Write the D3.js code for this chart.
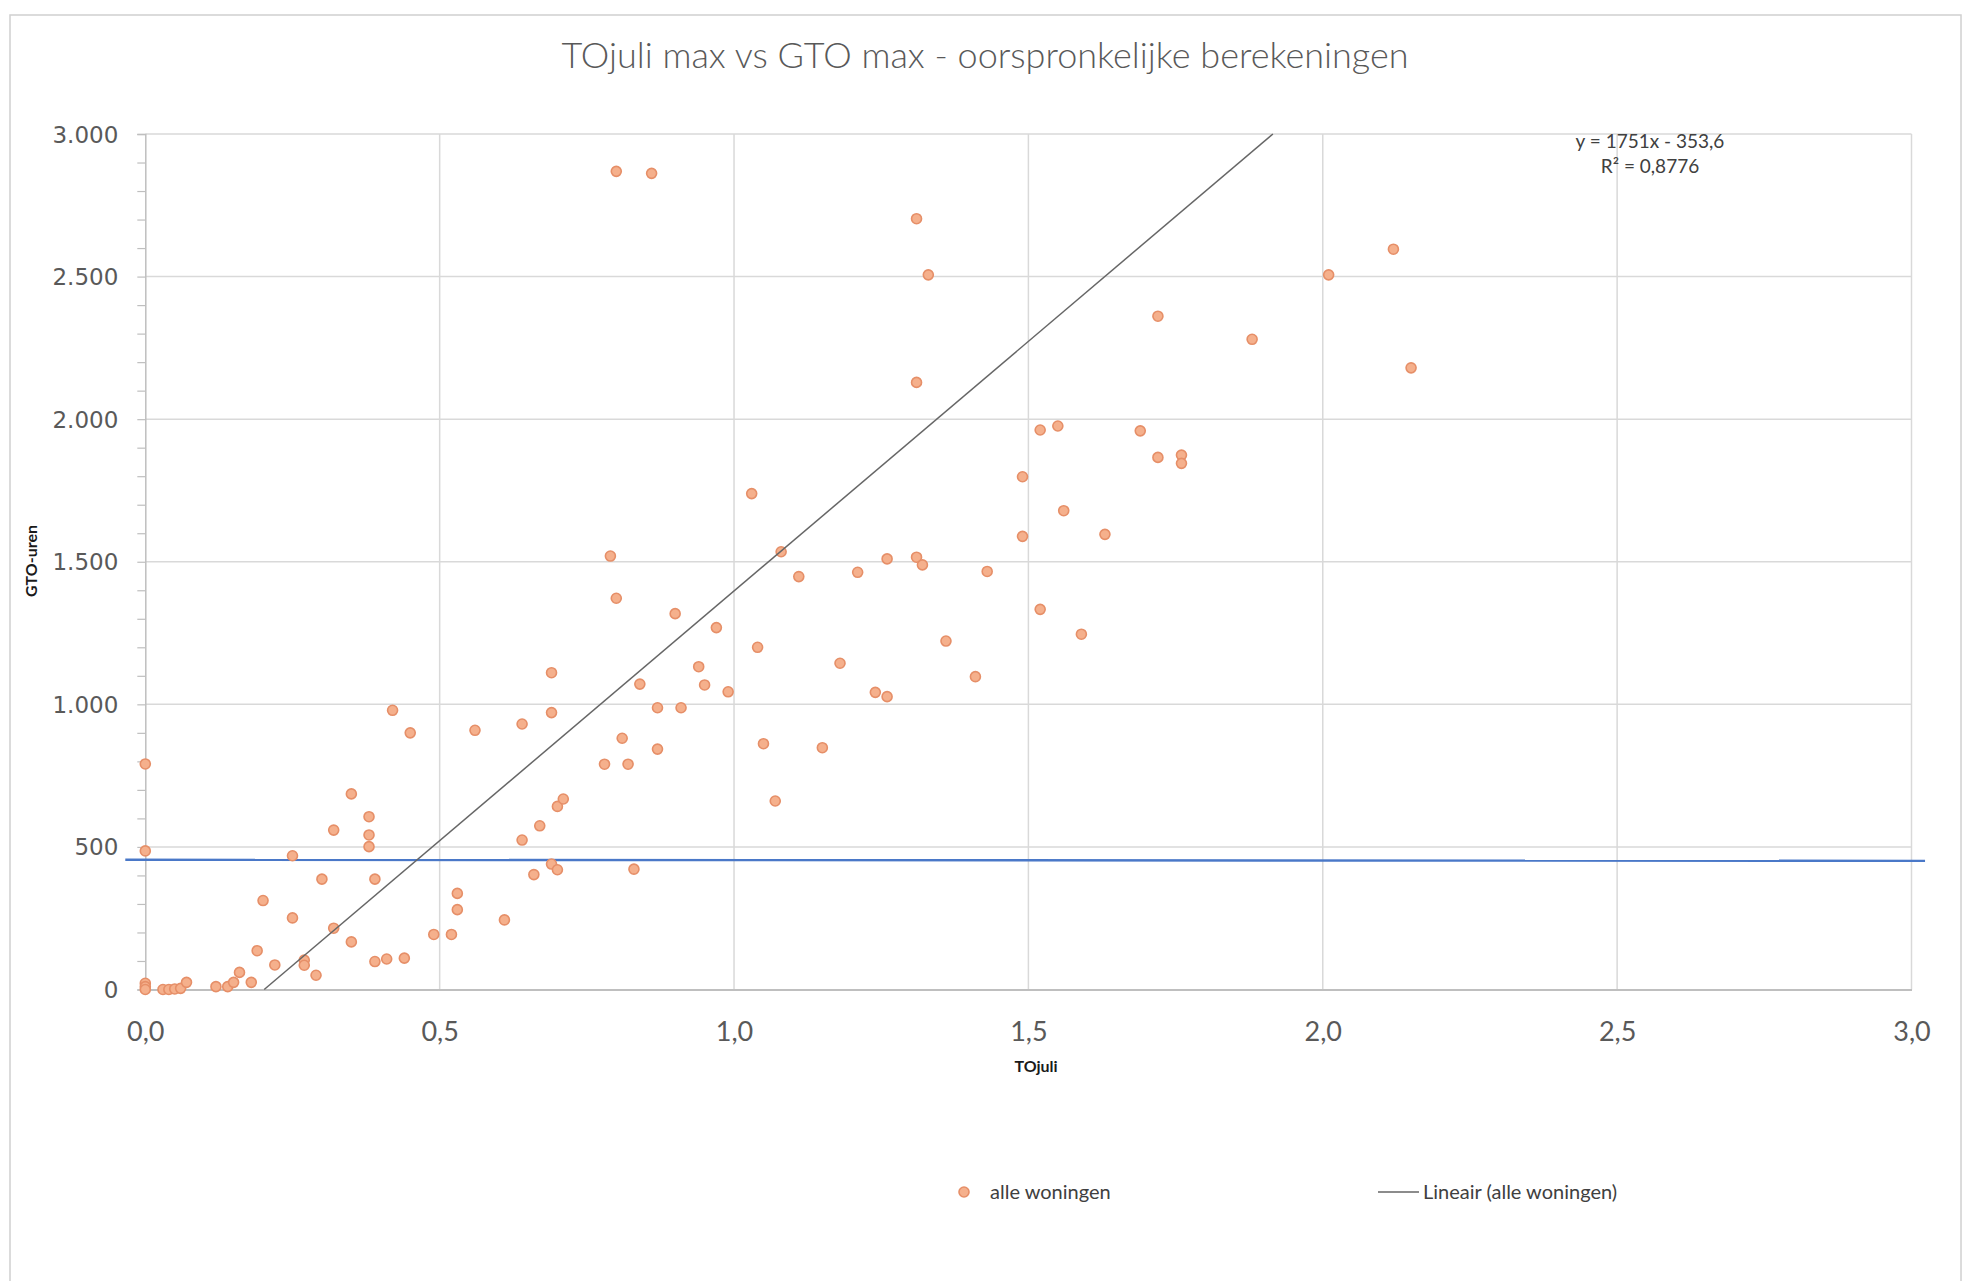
<!DOCTYPE html>
<html>
<head>
<meta charset="utf-8">
<script src="https://cdn.jsdelivr.net/npm/d3@7"></script>
<style>
  body { margin: 0; background: #fff; }
  svg { display: block; }
  text { font-family: Lato, "Open Sans", sans-serif; }
</style>
</head>
<body>
<div id="chart"></div>
<script>
// values
const toJuli = [
  0, 0, 0, 0, 0, 0.03, 0.04, 0.05, 0.06, 0.07, 0.12, 0.14, 0.15, 0.18, 0.16,
  0.19, 0.20, 0.22, 0.25, 0.25, 0.27, 0.27, 0.29, 0.30, 0.32, 0.32, 0.35, 0.35,
  0.38, 0.38, 0.38, 0.39, 0.39, 0.41, 0.44, 0.42, 0.45, 0.49, 0.52, 0.53, 0.53,
  0.56, 0.61, 0.64, 0.64, 0.67, 0.66, 0.69, 0.70, 0.70, 0.71, 0.69, 0.69, 0.78,
  0.82, 0.83, 0.79, 0.80, 0.80, 0.86, 0.81, 0.84, 0.87, 0.91, 0.87, 0.90, 0.94,
  0.95, 0.97, 0.99, 1.03, 1.04, 1.05, 1.07, 1.08, 1.11, 1.15, 1.18, 1.21, 1.24,
  1.26, 1.26, 1.31, 1.32, 1.31, 1.31, 1.33, 1.36, 1.41, 1.43, 1.49, 1.49, 1.52,
  1.55, 1.52, 1.56, 1.59, 1.63, 1.69, 1.72, 1.76, 1.76, 1.72, 1.88, 2.01, 2.12,
  2.15
];
const gtoUren = [
  791, 486, 22, 10, 0, 0, 0, 2, 4, 25, 10, 10, 25, 25, 60,
  136, 312, 86, 469, 251, 103, 85, 50, 387, 559, 215, 686, 167,
  606, 542, 501, 387, 98, 107, 110, 979, 900, 193, 193, 337, 280,
  909, 244, 931, 524, 574, 403, 440, 420, 642, 668, 1111, 971, 790,
  790, 422, 1520, 1372, 2869, 2862, 881, 1071, 988, 988, 843, 1318, 1132,
  1068, 1269, 1044, 1739, 1200, 862, 661, 1535, 1448, 848, 1144, 1463, 1042,
  1027, 1510, 1516, 1489, 2129, 2703, 2506, 1222, 1097, 1466, 1798, 1589, 1962,
  1976, 1333, 1679, 1246, 1596, 1959, 1866, 1874, 1845, 2361, 2280, 2506, 2596,
  2180
];
const xTicks = [0, 0.5, 1, 1.5, 2, 2.5, 3];
const yTicks = [0, 500, 1000, 1500, 2000, 2500, 3000];
const yMinorTicks = d3.range(0, 3001, 100);
const trendSlope = 1751;
const trendIntercept = -353.6;
// blue reference line (drawn by hand in the original)
const refLineX = [-0.034, 3.023];
const refLineY = [455, 451];

const chartTitle = "TOjuli max vs GTO max - oorspronkelijke berekeningen";
const xTitle = "TOjuli";
const yTitle = "GTO-uren";
const eqLines = ["y = 1751x - 353,6", "R\u00B2 = 0,8776"];
const seriesName = "alle woningen";
const trendName = "Lineair (alle woningen)";

const width = 1964, height = 1281;
const margin = { top: 134, right: 52.5, bottom: 291.5, left: 145.3 };
const innerW = width - margin.left - margin.right;
const innerH = height - margin.top - margin.bottom;

const nl = d3.formatLocale({ decimal: ",", thousands: ".", grouping: [3], currency: ["€", ""] });
const fmtX = nl.format(".1f");
const fmtY = nl.format(",.0f");

const svg = d3.select("#chart").append("svg")
  .attr("width", width)
  .attr("height", height);

// chart frame
svg.append("rect")
  .attr("x", 10).attr("y", 15)
  .attr("width", 1951).attr("height", 1290)
  .attr("fill", "#fff")
  .attr("stroke", "#d0d0d0")
  .attr("stroke-width", 1.5);

svg.append("text")
  .attr("x", 985).attr("y", 68)
  .attr("text-anchor", "middle")
  .style("font-size", "36px")
  .style("font-weight", 300)
  .style("fill", "#595959")
  .text(chartTitle);

const g = svg.append("g")
  .attr("transform", "translate(" + margin.left + "," + margin.top + ")");

const x = d3.scaleLinear().domain([0, 3]).range([0, innerW]);
const y = d3.scaleLinear().domain([0, 3000]).range([innerH, 0]);

// grid
g.append("g")
  .selectAll("line")
  .data(yTicks.filter(d => d > 0))
  .enter().append("line")
  .attr("x1", 0).attr("x2", innerW)
  .attr("y1", d => y(d)).attr("y2", d => y(d))
  .attr("stroke", "#d9d9d9").attr("stroke-width", 1.5);

g.append("g")
  .selectAll("line")
  .data(xTicks.filter(d => d > 0))
  .enter().append("line")
  .attr("x1", d => x(d)).attr("x2", d => x(d))
  .attr("y1", 0).attr("y2", innerH)
  .attr("stroke", "#d9d9d9").attr("stroke-width", 1.5);

// y axis with minor ticks
const yAxis = g.append("g")
  .call(d3.axisLeft(y).tickValues(yMinorTicks).tickSize(8).tickFormat(""));
yAxis.select(".domain").attr("stroke", "#bfbfbf").attr("stroke-width", 1.5);
yAxis.selectAll(".tick line").attr("stroke", "#bfbfbf").attr("stroke-width", 1.2);

g.append("g")
  .selectAll("text")
  .data(yTicks)
  .enter().append("text")
  .attr("x", -27)
  .attr("y", d => y(d) + 8.5)
  .attr("text-anchor", "end")
  .style("font-family", "'DejaVu Sans', sans-serif")
  .style("font-size", "23px")
  .style("fill", "#595959")
  .text(d => fmtY(d));

// x axis
const xAxis = g.append("g")
  .attr("transform", "translate(0," + innerH + ")")
  .call(d3.axisBottom(x).tickValues(xTicks).tickSize(0).tickPadding(32).tickFormat(fmtX));
xAxis.select(".domain").attr("stroke", "#bfbfbf").attr("stroke-width", 2);
xAxis.selectAll(".tick text")
  .style("font-family", "Lato, sans-serif")
  .style("font-size", "27px")
  .style("fill", "#595959");

// axis titles
svg.append("text")
  .attr("x", 1036).attr("y", 1072)
  .attr("text-anchor", "middle")
  .style("font-size", "16px")
  .style("font-weight", "bold")
  .style("fill", "#1a1a1a")
  .text(xTitle);

svg.append("text")
  .attr("transform", "translate(37,561) rotate(-90)")
  .attr("text-anchor", "middle")
  .style("font-size", "16px")
  .style("font-weight", "bold")
  .style("fill", "#1a1a1a")
  .text(yTitle);

// reference line
const refData = refLineX.map((d, i) => [d, refLineY[i]]);
g.append("path")
  .datum(refData)
  .attr("d", d3.line().x(d => x(d[0])).y(d => y(d[1])))
  .attr("fill", "none")
  .attr("stroke", "#4a78c8")
  .attr("stroke-width", 2.4);

// points
g.append("g")
  .selectAll("circle")
  .data(toJuli.map((d, i) => [d, gtoUren[i]]))
  .enter().append("circle")
  .attr("cx", d => x(d[0]))
  .attr("cy", d => y(d[1]))
  .attr("r", 5)
  .attr("fill", "#f5b08c")
  .attr("stroke", "#e68f68")
  .attr("stroke-width", 1.6);

// trendline
const tX0 = -trendIntercept / trendSlope;
const tX1 = (3000 - trendIntercept) / trendSlope;
g.append("line")
  .attr("x1", x(tX0)).attr("y1", y(trendSlope * tX0 + trendIntercept))
  .attr("x2", x(tX1)).attr("y2", y(trendSlope * tX1 + trendIntercept))
  .attr("stroke", "#666666")
  .attr("stroke-width", 1.5);

// equation
svg.append("g")
  .selectAll("text")
  .data(eqLines)
  .enter().append("text")
  .attr("x", 1650)
  .attr("y", (d, i) => 148 + i * 25)
  .attr("text-anchor", "middle")
  .style("font-size", "19px")
  .style("fill", "#404040")
  .text(d => d);

// legend
const legend = svg.append("g").attr("transform", "translate(0,1192)");
legend.append("circle")
  .attr("cx", 964).attr("cy", 0).attr("r", 5)
  .attr("fill", "#f5b08c").attr("stroke", "#e68f68").attr("stroke-width", 1.6);
legend.append("text")
  .attr("x", 990).attr("y", 7)
  .style("font-size", "20px").style("fill", "#404040")
  .text(seriesName);
legend.append("line")
  .attr("x1", 1378).attr("x2", 1419).attr("y1", 0).attr("y2", 0)
  .attr("stroke", "#666666").attr("stroke-width", 1.5);
legend.append("text")
  .attr("x", 1423).attr("y", 7)
  .style("font-size", "20px").style("fill", "#404040")
  .text(trendName);
</script>
</body>
</html>
